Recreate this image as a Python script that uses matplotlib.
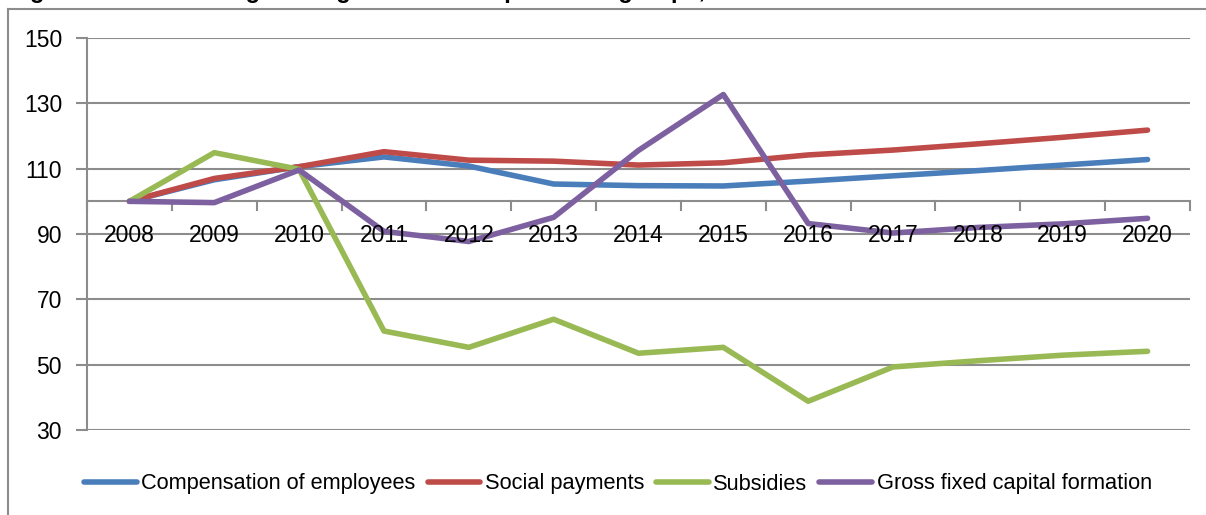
import matplotlib.pyplot as plt
from matplotlib.lines import Line2D

years = ["2008", "2009", "2010", "2011", "2012", "2013", "2014",
         "2015", "2016", "2017", "2018", "2019", "2020"]

compensation = [100, 106.6, 110.6, 113.6, 110.8, 105.3, 104.8, 104.7, 106.2, 107.8, 109.4, 111.1, 112.8]
social = [100, 107.0, 110.6, 115.2, 112.6, 112.3, 111.1, 111.8, 114.2, 115.7, 117.6, 119.6, 121.8]
subsidies = [100, 114.9, 109.8, 60.3, 55.3, 63.9, 53.5, 55.3, 38.8, 49.3, 51.2, 52.9, 54.1]
gfcf = [100, 99.6, 109.6, 90.8, 87.7, 95.1, 115.6, 132.7, 93.2, 90.3, 92.0, 93.1, 94.8]

series = [
    ("Compensation of employees", compensation, "#4a7ebb"),
    ("Social payments", social, "#be4b48"),
    ("Subsidies", subsidies, "#98b954"),
    ("Gross fixed capital formation", gfcf, "#7d60a0"),
]

grid_col = "#8c8c8c"
plt.rcParams["font.family"] = ["Liberation Sans", "DejaVu Sans"]
fs = 16.5

fig = plt.figure(figsize=(12.06, 5.15), dpi=100)
ax = fig.add_axes([87 / 1206, 1 - 430 / 515, (1190 - 87) / 1206, (430 - 38) / 515])

x = list(range(len(years)))
for name, vals, col in series:
    ax.plot(x, vals, color=col, lw=4.0, label=name,
            solid_capstyle="round", solid_joinstyle="round", zorder=3)

ax.set_xlim(-0.5, len(years) - 0.5)
ax.set_ylim(30, 150)
ax.set_yticks(range(30, 151, 20))
ax.yaxis.grid(True, color=grid_col, lw=1.5)
ax.set_axisbelow(True)
ax.tick_params(axis="y", length=8, width=1.5, color=grid_col, labelsize=fs, pad=10)
ax.set_xticks([])
for s in ["top", "right", "bottom"]:
    ax.spines[s].set_visible(False)
ax.spines["left"].set_color(grid_col)
ax.spines["left"].set_linewidth(1.5)

# category axis crossing at 100
ax.axhline(100, color=grid_col, lw=1.5, zorder=2)
for k in range(len(years) + 1):
    ax.plot([k - 0.5, k - 0.5], [100, 97.4], color=grid_col, lw=1.5, zorder=2, clip_on=False)
for k, yr in enumerate(years):
    ax.text(k, 87.4, yr, ha="center", va="baseline", fontsize=fs, zorder=5)

ax.legend(loc="center", bbox_to_anchor=(618 / 1206, 1 - 484 / 515),
          bbox_transform=fig.transFigure, ncol=4, frameon=False, fontsize=15.7,
          handlelength=2.4, handletextpad=0.22, columnspacing=0.55)

# outer frame and clipped title
fig.add_artist(Line2D([8 / 1206, 1], [1 - 9 / 515] * 2, transform=fig.transFigure, color=grid_col, lw=1.5))
fig.add_artist(Line2D([8 / 1206] * 2, [0, 1 - 9 / 515], transform=fig.transFigure, color=grid_col, lw=1.5))
fig.text(9 / 1206, 1 + 2 / 515, "Figure 10: Indices of general government expenditure groups, 2008=100",
         fontsize=17, fontweight="bold", va="baseline")

fig.savefig("out.png", dpi=100)
